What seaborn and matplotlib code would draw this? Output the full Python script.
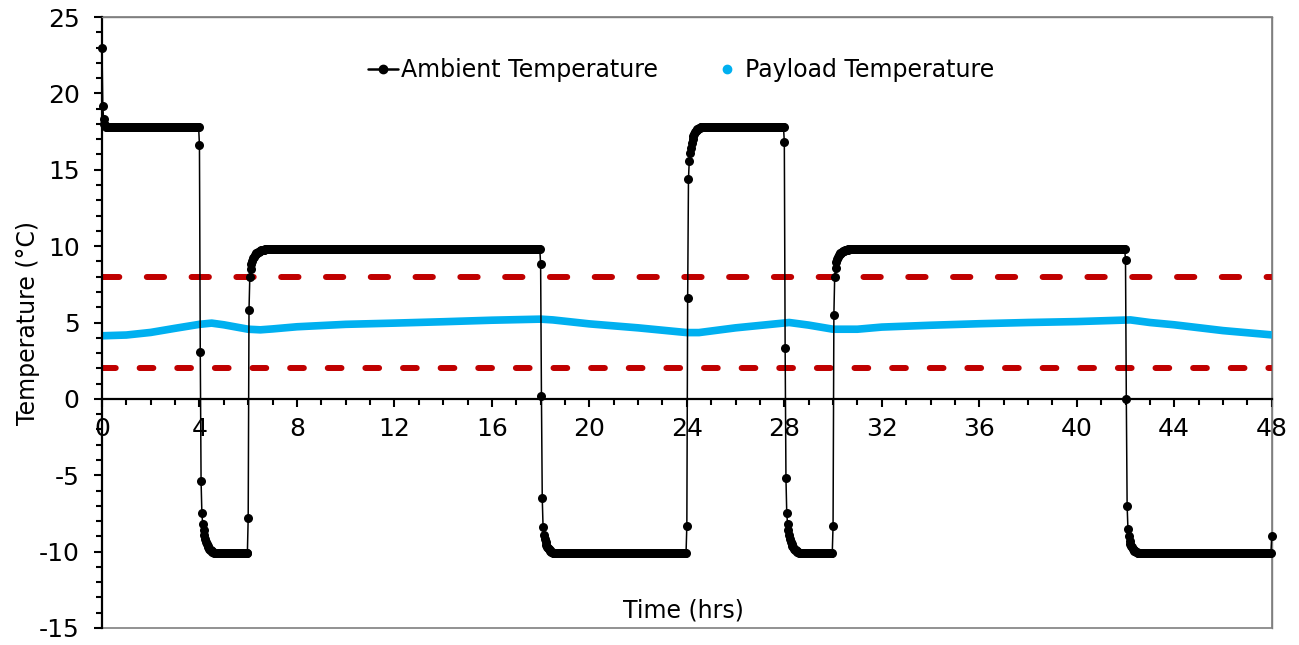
"""
Ambient vs payload temperature over a 48 h chamber test.
"""
import pandas as pd
import matplotlib.pyplot as plt
import seaborn as sns
from matplotlib.lines import Line2D
from matplotlib.ticker import MultipleLocator

# Ambient chamber profile, logged every 2 minutes.
# Each segment starts at a setpoint switch, runs through its transient
# readings and then holds at the plateau level until the next switch.
STEP_HRS = 2 / 60
seg_start = [0, 4, 6, 18, 24, 28, 30, 42]
seg_end = [4, 6, 18, 24, 28, 30, 42, 48]
seg_level = [17.8, -10.1, 9.8, -10.1, 17.8, -10.1, 9.8, -10.1]

trans_a = [23.0, 19.2, 18.3, 18.0, 17.9]
trans_b = [16.6, 3.1, -5.4, -7.5, -8.2, -8.6, -8.9, -9.15, -9.35, -9.5,
           -9.62, -9.72, -9.8, -9.87, -9.92, -9.96, -10.0, -10.03, -10.06, -10.08]
trans_c = [-7.8, 5.8, 8.0, 8.5, 8.85, 9.05, 9.2, 9.32, 9.4, 9.47, 9.52, 9.57,
           9.61, 9.64, 9.67, 9.7, 9.72, 9.74, 9.75, 9.76, 9.77, 9.78, 9.79]
trans_d = [8.8, 0.2, -6.5, -8.4, -8.9, -9.2, -9.4, -9.55, -9.67, -9.77,
           -9.85, -9.91, -9.96, -10.0, -10.03, -10.06, -10.08]
trans_e = [-8.3, 6.6, 14.4, 15.6, 16.1, 16.45, 16.75, 17.0, 17.2, 17.35,
           17.45, 17.55, 17.6, 17.65, 17.7, 17.73, 17.76, 17.78]
trans_f = [16.8, 3.3, -5.2, -7.5, -8.2, -8.6, -8.9, -9.15, -9.35, -9.5,
           -9.62, -9.72, -9.8, -9.87, -9.92, -9.96, -10.0, -10.03, -10.06, -10.08]
trans_g = [-8.3, 5.5, 8.0, 8.6, 8.95, 9.15, 9.3, 9.4, 9.47, 9.53, 9.58,
           9.62, 9.65, 9.68, 9.7, 9.72, 9.74, 9.76, 9.77, 9.78, 9.79]
trans_h = [9.1, 0.0, -7.0, -8.5, -9.0, -9.3, -9.5, -9.63, -9.73, -9.82,
           -9.88, -9.93, -9.97, -10.0, -10.03, -10.06, -10.08]
seg_transient = [trans_a, trans_b, trans_c, trans_d, trans_e, trans_f, trans_g, trans_h]
last_time = 48
last_value = -9.0

# Payload probe readings
payload_time = [0, 1, 2, 3, 4, 4.5, 5, 6, 6.5, 7, 8, 10, 12, 14, 16, 18, 18.5,
                20, 22, 24, 24.5, 26, 28.2, 29, 30, 31, 32, 34, 36, 38, 40,
                42.2, 43, 44, 46, 48]
payload_temp = [4.13, 4.18, 4.35, 4.62, 4.88, 4.96, 4.85, 4.56, 4.52, 4.58,
                4.72, 4.88, 4.96, 5.05, 5.15, 5.22, 5.17, 4.91, 4.65, 4.34,
                4.34, 4.65, 5.0, 4.83, 4.56, 4.56, 4.7, 4.82, 4.92, 5.0, 5.06,
                5.17, 5.0, 4.85, 4.47, 4.19]

# Allowed payload band (2-8 °C)
spec_limits = [8, 2]
x_ticks = list(range(0, 49, 4))
y_ticks = list(range(-15, 26, 5))

# Build the ambient series from the segments
times, temps = [], []
for start, end, level, trans in zip(seg_start, seg_end, seg_level, seg_transient):
    n = int(round((end - start) / STEP_HRS))
    times += [start + i * STEP_HRS for i in range(n)]
    temps += trans + [level] * (n - len(trans))
times.append(last_time)
temps.append(last_value)
ambient_df = pd.DataFrame({'time': times, 'temp': temps})
payload_df = pd.DataFrame({'time': payload_time, 'temp': payload_temp})

sns.set_style('white')
plt.rcParams['font.family'] = ['DejaVu Sans']
plt.rcParams['axes.unicode_minus'] = False
plt.rcParams['text.color'] = 'black'
plt.rcParams['axes.labelcolor'] = 'black'

fig, ax = plt.subplots(figsize=(12.99, 6.45), dpi=100)
fig.subplots_adjust(left=0.0785, right=0.979, bottom=0.0264, top=0.9736)

# Spec limit lines
dash_styles = [(2.9, 4.6), (2.3, 4.0)]
for lim, dash in zip(spec_limits, dash_styles):
    ax.axhline(lim, color='#C00000', lw=4.3, dashes=dash,
               dash_capstyle='round', zorder=1)

sns.lineplot(data=payload_df, x='time', y='temp', color='#00B0F0', lw=5.5,
             estimator=None, ax=ax, zorder=2)
sns.lineplot(data=ambient_df, x='time', y='temp', color='black', lw=1.1,
             marker='o', markersize=6.5, markeredgewidth=0,
             estimator=None, ax=ax, zorder=3, clip_on=False)

ax.set_xlim(0, 48)
ax.set_ylim(-15, 25)
ax.set_xticks(x_ticks)
ax.set_yticks(y_ticks)
ax.xaxis.set_minor_locator(MultipleLocator(1))
ax.yaxis.set_minor_locator(MultipleLocator(1))

# Axes: x axis through zero, thin grey frame around the plot area
ax.spines['bottom'].set_position(('data', 0))
for side in ['left', 'bottom']:
    ax.spines[side].set_color('black')
    ax.spines[side].set_linewidth(1.6)
for side in ['top', 'right']:
    ax.spines[side].set_color('#7f7f7f')
    ax.spines[side].set_linewidth(1)
ax.patch.set_edgecolor('#7f7f7f')
ax.patch.set_linewidth(1.2)

ax.tick_params(axis='both', which='both', direction='out', color='black',
               width=1.5, labelsize=18, labelcolor='black')
ax.tick_params(axis='both', which='major', length=6)
ax.tick_params(axis='both', which='minor', length=4)
ax.tick_params(axis='x', which='both', bottom=True, pad=7)
ax.tick_params(axis='y', which='both', left=True, pad=10)

ax.set_xlabel('Time (hrs)', fontsize=17, color='black')
ax.set_ylabel('Temperature (°C)', fontsize=17, color='black')
ax.xaxis.set_label_coords(0.497, 0.048)
ax.yaxis.set_label_coords(-0.053, 0.5)

handles = [
    Line2D([], [], color='black', lw=1.8, marker='o', markersize=6),
    Line2D([], [], color='#00B0F0', lw=0, marker='o', markersize=6),
]
ax.legend(handles, ['Ambient Temperature', 'Payload Temperature'],
          loc='center', bbox_to_anchor=(0.495, 0.913), ncol=2, frameon=False,
          handlelength=1.3, handletextpad=0.1, columnspacing=2.3, fontsize=17)

plt.savefig('out.png', dpi=100)
